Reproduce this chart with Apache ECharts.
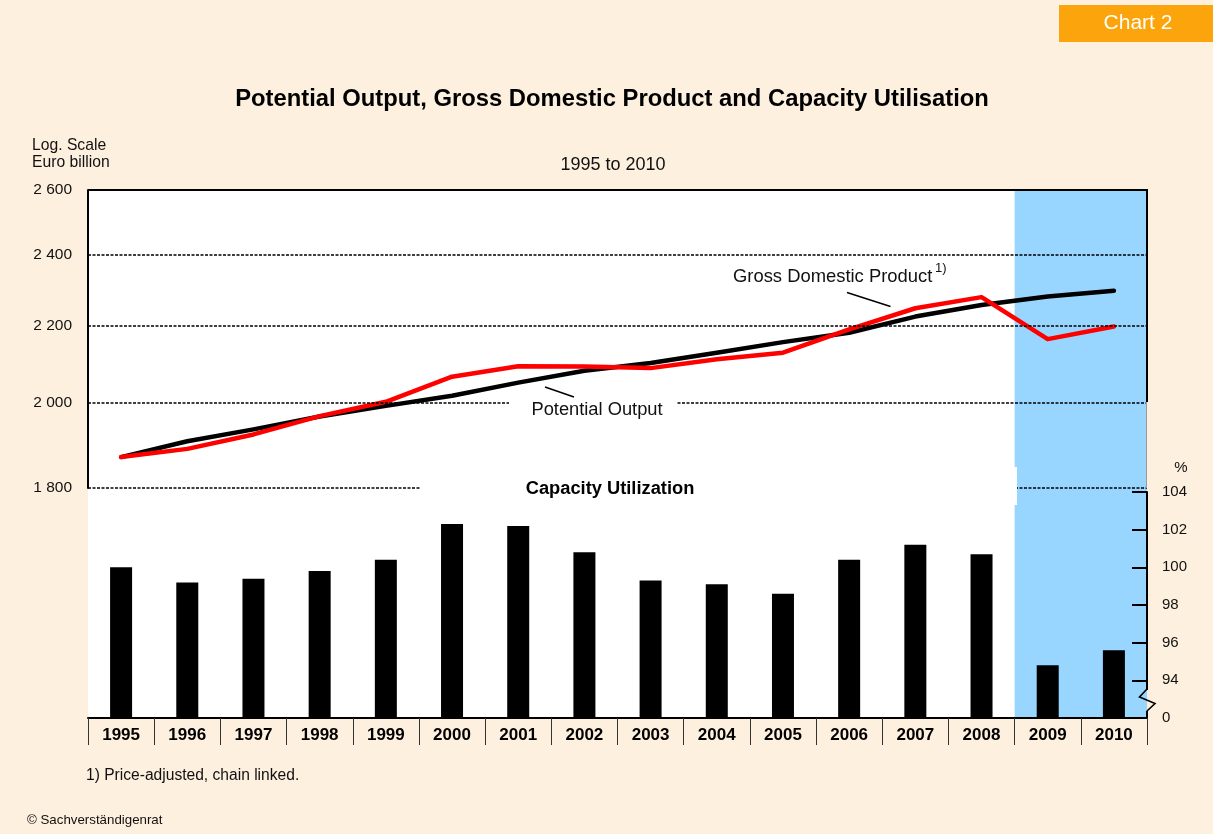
<!DOCTYPE html>
<html><head><meta charset="utf-8">
<script src="https://cdn.jsdelivr.net/npm/echarts@6/dist/echarts.min.js"></script>
<style>html,body{margin:0;padding:0;background:#FEF0DF}#c{width:1213px;height:834px}</style>
</head><body><div id="c"></div>
<script>
// ---- data ----
const years = ['1995','1996','1997','1998','1999','2000','2001','2002','2003','2004','2005','2006','2007','2008','2009','2010'];
const forecastYears = ['2009','2010'];
const potentialOutput = [1870, 1907, 1935, 1966, 1992, 2017, 2050, 2080, 2100, 2127, 2155, 2180, 2224, 2256, 2280, 2296];
const gdp = [1870, 1889, 1923, 1967, 2002, 2065, 2092, 2091, 2087, 2110, 2127, 2189, 2247, 2278, 2163, 2197];
const capacityUtilization = [100.0, 99.2, 99.4, 99.8, 100.4, 102.3, 102.2, 100.8, 99.3, 99.1, 98.6, 100.4, 101.2, 100.7, 94.8, 95.6];
const leftTicks = [1800, 2000, 2200, 2400, 2600];
const rightAxisMin = 92, rightAxisMax = 104, rightAxisStep = 2;

// ---- layout ----
const W = 1213, H = 834;
const L = 88, R = 1147, T = 190, MID = 488, BAR_T = 492, B = 718;
const FONT = '"Liberation Sans", Arial, sans-serif';
const BG = '#FEF0DF', BLUE = '#99D6FF';

const fmtThousands = v => String(v).replace(/\B(?=(\d{3})+$)/, ' ');

const chart = echarts.init(document.getElementById('c'), null, {renderer: 'canvas'});

const markLineData = leftTicks.map(v => ({
  yAxis: v,
  lineStyle: v === 2600 ? {type: 'solid', width: 2, color: '#000'} : {type: [3, 1.5], width: 1.6, color: '#000'},
  label: {show: true, position: 'start', distance: 16, formatter: fmtThousands(v),
          fontFamily: FONT, fontSize: 15.5, color: '#111'}
}));

const option = {
  backgroundColor: BG,
  animation: false,
  textStyle: {fontFamily: FONT},
  grid: [
    {left: L, right: W - R, top: T, bottom: H - MID, show: false},
    {left: L, right: W - R, top: BAR_T, bottom: H - B, show: false},
    {left: L, right: W - R, top: T, bottom: H - B, show: true, backgroundColor: '#fff', borderWidth: 0}
  ],
  xAxis: [
    {type: 'category', gridIndex: 0, data: years, boundaryGap: true, show: false},
    {type: 'category', gridIndex: 1, data: years, boundaryGap: true, z: 10,
     axisLine: {show: true, onZero: false, lineStyle: {color: '#000', width: 2}},
     axisTick: {show: true, interval: 0, length: 27, lineStyle: {color: '#333', width: 1}},
     axisLabel: {show: true, interval: 0, margin: 9, fontFamily: FONT, fontSize: 17, fontWeight: 'bold', color: '#000'}},
    {type: 'category', gridIndex: 2, data: years, boundaryGap: true, show: false}
  ],
  yAxis: [
    {type: 'log', gridIndex: 0, logBase: 10, min: 1800, max: 2600, position: 'left', z: 10,
     axisLine: {show: true, lineStyle: {color: '#000', width: 2}},
     axisTick: {show: false}, axisLabel: {show: false}, splitLine: {show: false}},
    {type: 'value', gridIndex: 1, position: 'right', min: rightAxisMin, max: rightAxisMax, interval: rightAxisStep, z: 10,
     axisLine: {show: true, lineStyle: {color: '#000', width: 2}},
     axisTick: {show: true, inside: true, length: 15, lineStyle: {color: '#000', width: 2}},
     axisLabel: {show: true, margin: 15, fontFamily: FONT, fontSize: 15, color: '#111',
                 formatter: v => (v === rightAxisMin ? '0' : String(v))},
     splitLine: {show: false}},
    {type: 'value', gridIndex: 2, min: 0, max: 1, show: false}
  ],
  series: [
    {type: 'line', name: 'Potential Output', xAxisIndex: 0, yAxisIndex: 0, data: potentialOutput,
     symbol: 'none', lineStyle: {color: '#000', width: 4.5, join: 'round', cap: 'round'}, z: 3,
     markLine: {silent: true, symbol: 'none', animation: false, data: markLineData}},
    {type: 'line', name: 'Gross Domestic Product', xAxisIndex: 0, yAxisIndex: 0, data: gdp,
     symbol: 'none', lineStyle: {color: '#FF0000', width: 4.5, join: 'round', cap: 'round'}, z: 4},
    {type: 'bar', name: 'Capacity Utilization', xAxisIndex: 1, yAxisIndex: 1, data: capacityUtilization,
     barWidth: 22, itemStyle: {color: '#000'}, z: 3}
  ],
  graphic: [
    // forecast band (shape filled in from the category axis after layout)
    {type: 'rect', id: 'band', z: 1, silent: true, shape: {x: 0, y: T, width: 0, height: B - T}, style: {fill: BLUE}},
    // title & texts
    {type: 'text', z: 100, x: 612, y: 99, style: {text: 'Potential Output, Gross Domestic Product and Capacity Utilisation',
      font: 'bold 23.8px ' + FONT, fill: '#000', align: 'center', verticalAlign: 'middle'}},
    {type: 'text', z: 100, x: 613, y: 165, style: {text: '1995 to 2010', font: '18px ' + FONT, fill: '#111',
      align: 'center', verticalAlign: 'middle'}},
    {type: 'text', z: 100, x: 32, y: 146, style: {text: 'Log. Scale', font: '15.7px ' + FONT, fill: '#111', verticalAlign: 'middle'}},
    {type: 'text', z: 100, x: 32, y: 163, style: {text: 'Euro billion', font: '15.7px ' + FONT, fill: '#111', verticalAlign: 'middle'}},
    {type: 'text', z: 100, x: 86, y: 776, style: {text: '1) Price-adjusted, chain linked.', font: '15.6px ' + FONT, fill: '#111', verticalAlign: 'middle'}},
    {type: 'text', z: 100, x: 27, y: 820, style: {text: '© Sachverständigenrat', font: '13.3px ' + FONT, fill: '#111', verticalAlign: 'middle'}},
    // badge
    {type: 'rect', z: 100, shape: {x: 1059, y: 5, width: 154, height: 37}, style: {fill: '#FCA40B'}},
    {type: 'text', z: 101, x: 1138, y: 23, style: {text: 'Chart 2', font: '21px ' + FONT, fill: '#fff', align: 'center', verticalAlign: 'middle'}},
    // capacity utilization title box
    {type: 'rect', z: 50, shape: {x: 420, y: 467, width: 597, height: 38}, style: {fill: '#fff'}},
    {type: 'text', z: 51, x: 610, y: 489, style: {text: 'Capacity Utilization', font: 'bold 18.3px ' + FONT, fill: '#000', align: 'center', verticalAlign: 'middle'}},
    // potential output label
    {type: 'rect', z: 50, shape: {x: 509, y: 398, width: 167, height: 24}, style: {fill: '#fff'}},
    {type: 'text', z: 51, x: 597, y: 410, style: {text: 'Potential Output', font: '18.3px ' + FONT, fill: '#111', align: 'center', verticalAlign: 'middle'}},
    {type: 'line', z: 51, shape: {x1: 545, y1: 387, x2: 574, y2: 397}, style: {stroke: '#000', lineWidth: 1.5}},
    // GDP label
    {type: 'text', z: 51, x: 733, y: 277, style: {text: 'Gross Domestic Product', font: '18.4px ' + FONT, fill: '#111', verticalAlign: 'middle'}},
    {type: 'text', z: 51, x: 935, y: 268, style: {text: '1)', font: '13px ' + FONT, fill: '#111', verticalAlign: 'middle'}},
    {type: 'line', z: 51, shape: {x1: 847, y1: 292.5, x2: 890.5, y2: 306.5}, style: {stroke: '#000', lineWidth: 1.5}},
    // right border of upper panel
    {type: 'line', z: 60, shape: {x1: R, y1: T - 1, x2: R, y2: 402}, style: {stroke: '#000', lineWidth: 2}},
    {type: 'line', z: 60, shape: {x1: R - 0.5, y1: 402, x2: R - 0.5, y2: MID}, style: {stroke: '#9a9a9a', lineWidth: 1}},
    // % label
    {type: 'text', z: 100, x: 1181, y: 468, style: {text: '%', font: '15px ' + FONT, fill: '#111', align: 'center', verticalAlign: 'middle'}},
    // axis break
    {type: 'rect', z: 60, shape: {x: R - 2, y: 690, width: 2, height: 21}, style: {fill: BLUE}},
    {type: 'rect', z: 60, shape: {x: R, y: 690, width: 3, height: 21}, style: {fill: BG}},
    {type: 'polyline', z: 61, shape: {points: [[R, 689], [1139.5, 697], [1155, 703.5], [R, 711]]},
     style: {stroke: '#000', lineWidth: 1.6, fill: null}}
  ]
};
chart.setOption(option);

// place the forecast band on the category scale of the upper panel
const px = c => chart.convertToPixel({xAxisIndex: 0}, c);
const halfBand = (px(years[1]) - px(years[0])) / 2;
const bandX0 = px(forecastYears[0]) - halfBand;
const bandX1 = px(forecastYears[forecastYears.length - 1]) + halfBand;
chart.setOption({graphic: {elements: [{id: 'band', shape: {x: bandX0, y: T, width: bandX1 - bandX0, height: B - T}}]}});
</script>
</body></html>
